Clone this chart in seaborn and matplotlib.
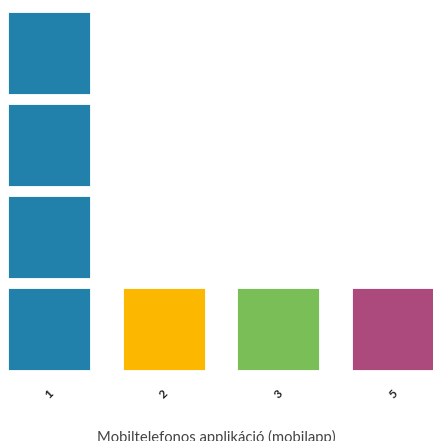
import numpy as np
import pandas as pd
import matplotlib
matplotlib.use("Agg")
import matplotlib.pyplot as plt
import seaborn as sns

# answer categories and how many responses each got
categories = ["1", "2", "3", "5"]
counts = [4, 1, 1, 1]
colors = ["#2181aa", "#fcb800", "#7abe57", "#ad4a7d"]
x_label = "Mobiltelefonos applikáció (mobilapp)"

# one row per unit square
rows = []
for cat, n in zip(categories, counts):
    for level in range(n):
        rows.append({"category": cat, "level": level})
df = pd.DataFrame(rows)

sns.set_theme(style="white")
plt.rcParams["font.family"] = ["Lato", "DejaVu Sans"]

fig = plt.figure(figsize=(4.33, 4.41), dpi=100)
ax = fig.add_axes([0, 66 / 441, 1, 375 / 441])

side_pt = 82 * 72 / 100
sns.scatterplot(
    data=df, x="category", y="level", hue="category",
    palette=dict(zip(categories, colors)), marker="s",
    s=side_pt ** 2, edgecolor="white", linewidth=0.6,
    legend=False, ax=ax,
)

ax.set_xlim(-0.427, 3.349)
ax.set_ylim(-0.505, 3.571)
ax.set_yticks([])
ax.tick_params(axis="x", length=0, pad=14, labelsize=8.5, labelcolor="#222222")
plt.setp(ax.get_xticklabels(), rotation=45, ha="center", va="center",
         fontweight="bold")
ax.set_xlabel(x_label, fontsize=10.6, color="#444444", labelpad=21)
ax.set_ylabel("")
sns.despine(ax=ax, left=True, bottom=True)

fig.savefig("out.png", dpi=100)
